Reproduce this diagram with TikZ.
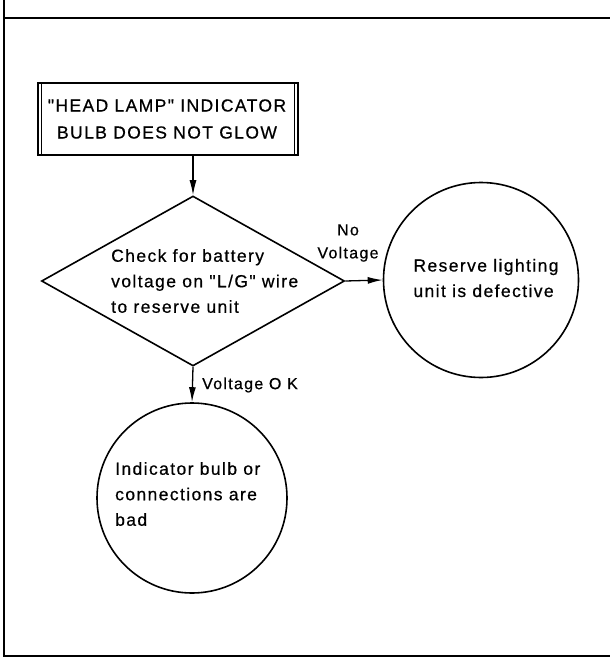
\documentclass[tikz,border=0pt]{standalone}
\usepackage{fontspec}
\setmainfont{Liberation Sans}
\newfontfamily\lsfont[LetterSpace=8,FakeBold=0.6]{Liberation Sans}
\usetikzlibrary{arrows.meta,shapes.geometric}
\begin{document}
\begin{tikzpicture}[x=1pt,y=-1pt,
  frame/.style={line width=2pt},
  boxline/.style={line width=1.6pt},
  shapeline/.style={line width=1.6pt},
  conn/.style={line width=1.3pt,-{Latex[length=15pt,width=7pt]}},
  txt/.style={font=\lsfont\fontsize{17.5}{25.5}\selectfont,align=left,inner sep=0pt},
  boxtxt/.style={font=\lsfont\fontsize{17.5}{27}\selectfont,align=center,inner sep=0pt},
  lbl/.style={font=\lsfont\fontsize{16}{23}\selectfont,align=center,inner sep=0pt}]
\useasboundingbox (0,0) rectangle (610,658);
% frame
\coordinate (ftl) at (4,0);
\coordinate (fbl) at (4,656);
\coordinate (ftop) at (4,18);
\coordinate (ftopr) at (610,18);
\coordinate (fbr) at (610,656);
\draw[frame] (ftl) -- (fbl) -- (fbr);
\draw[frame] (ftop) -- (ftopr);
% start box
\node[draw,boxline,minimum width=260pt,minimum height=72pt,inner sep=0pt] (box) at (168,119) {};
\draw[line width=1.1pt] ([xshift=4pt]box.north west) -- ([xshift=4pt]box.south west);
\draw[line width=1.1pt] ([xshift=-4pt]box.north east) -- ([xshift=-4pt]box.south east);
\node[boxtxt] (boxt) at (167,119) {"HEAD LAMP" INDICATOR\\BULB DOES NOT GLOW};
% decision
\node[draw,shapeline,diamond,minimum width=303pt,minimum height=170pt,inner sep=0pt] (dec) at (193,281) {};
\node[txt,anchor=west] (dect) at (111,281) {Check for battery\\voltage on "L/G" wire\\to reserve unit};
% result circles
\node[draw,shapeline,circle,minimum size=195pt,inner sep=0pt] (res) at (481,280) {};
\node[txt] (rest) at (486,278) {Reserve lighting\\unit is defective};
\node[draw,shapeline,circle,minimum size=190pt,inner sep=0pt] (ind) at (192,498) {};
\node[txt,anchor=west] (indt) at (115,494) {Indicator bulb or\\connections are\\bad};
% connectors
\coordinate (boxout) at (box.south -| dec.north);
\draw[conn] (boxout) -- (dec.north);
\draw[conn] (dec.east) -- (res.west);
\draw[conn] (dec.south) -- (ind.north);
% labels
\node[lbl] (lno) at (348,243) {No\\Voltage};
\node[lbl,anchor=west] (lok) at (202,385) {Voltage O K};
\end{tikzpicture}
\end{document}
